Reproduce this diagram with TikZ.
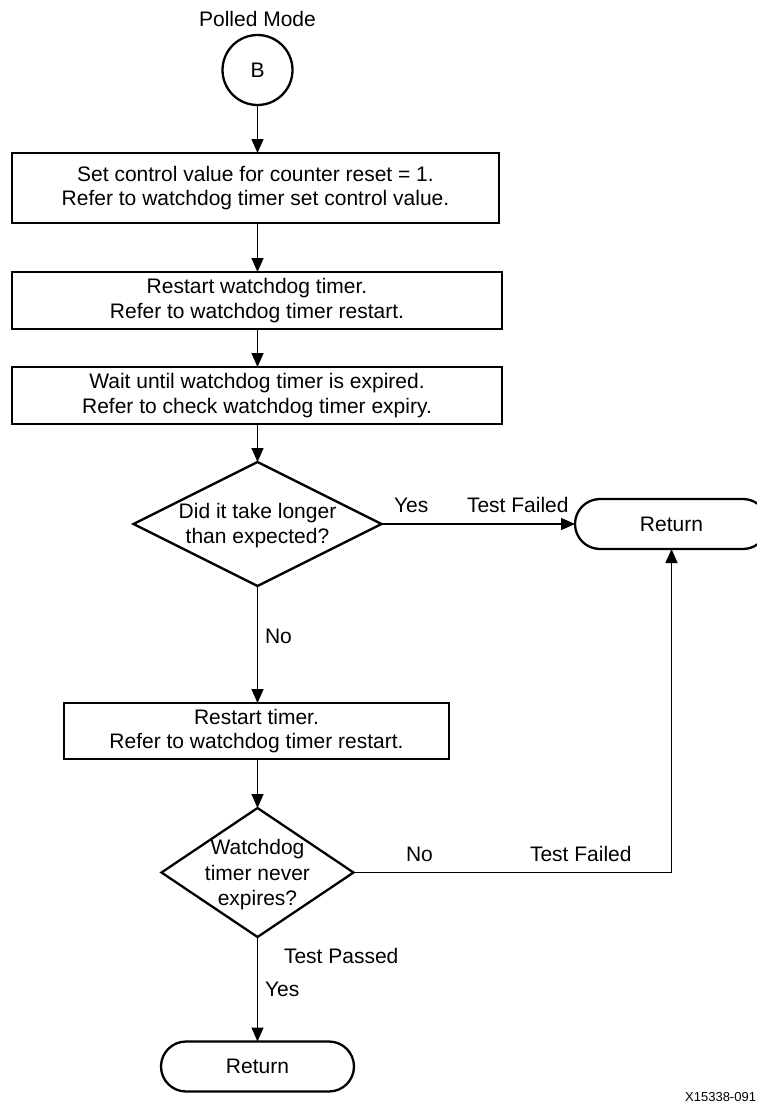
\documentclass[tikz,border=0pt]{standalone}
\usepackage{fontspec}
\setmainfont{Liberation Sans}
\usetikzlibrary{shapes.geometric,arrows.meta}
\begin{document}
\begin{tikzpicture}[x=1pt,y=-1pt,
  every node/.style={inner sep=0pt, outer sep=0pt, font=\fontsize{21}{24.5}\selectfont},
  procbox/.style={draw, rectangle, line width=2.3pt, align=center},
  termbox/.style={draw, rectangle, rounded corners=25pt, line width=2.3pt, minimum width=193pt, minimum height=50pt},
  decbox/.style={draw, diamond, line width=2.3pt},
  dectext/.style={align=center, font=\fontsize{21}{25}\selectfont},
  conn/.style={line width=1.4pt, -{Triangle[length=14pt,width=12pt]}},
  lbl/.style={anchor=base west}
]
\useasboundingbox (0,0) rectangle (756,1105);

% start
\node[anchor=base] (title) at (257.5,26.5) {Polled Mode};
\node[draw, circle, line width=2.3pt, minimum size=70pt] (circ) at (257.5,70) {B};

% process boxes
\node[procbox, minimum width=487pt, minimum height=70pt] (b1) at (255.5,188)
  {Set control value for counter reset = 1.\\Refer to watchdog timer set control value.};
\node[procbox, minimum width=490pt, minimum height=57pt] (b2) at (257,300.5)
  {Restart watchdog timer.\\Refer to watchdog timer restart.};
\node[procbox, minimum width=490pt, minimum height=57pt] (b3) at (257,395.5)
  {Wait until watchdog timer is expired.\\Refer to check watchdog timer expiry.};

% decision 1
\node[decbox, minimum width=248pt, minimum height=124pt] (d1) at (257.5,524) {};
\node[dectext] (d1t) at (257.5,525.5) {Did it take longer\\than expected?};

% return 1
\node[termbox] (r1) at (671.5,524) {Return};

% restart timer
\node[procbox, minimum width=385pt, minimum height=56pt] (b4) at (256.5,731)
  {Restart timer.\\Refer to watchdog timer restart.};

% decision 2
\node[decbox, minimum width=192pt, minimum height=129pt] (d2) at (257.5,872.5) {};
\node[dectext, font=\fontsize{21}{25.5}\selectfont] (d2t) at (257.5,874.7) {Watchdog\\timer never\\expires?};

% return 2
\node[termbox] (r2) at (257.5,1066.5) {Return};

% connectors
\draw[conn] (circ.south) -- (circ.south |- b1.north);
\draw[conn] (circ.south |- b1.south) -- (circ.south |- b2.north);
\draw[conn] (circ.south |- b2.south) -- (circ.south |- b3.north);
\draw[conn] (circ.south |- b3.south) -- (d1.north);
\draw[conn] (d1.east) -- (r1.west);
\draw[conn] (d1.south) -- (d1.south |- b4.north);
\draw[conn] (d1.south |- b4.south) -- (d2.north);
\draw[conn] (d2.east) -| (r1.south);
\draw[conn] (d2.south) -- (r2.north);

% labels
\node[lbl] (yes1) at (394,512.5) {Yes};
\node[lbl] (tf1) at (467,512.5) {Test Failed};
\node[lbl] (no1) at (265,643.5) {No};
\node[lbl] (no2) at (406,861.5) {No};
\node[lbl] (tf2) at (530,861.5) {Test Failed};
\node[lbl] (tp) at (284,963.5) {Test Passed};
\node[lbl] (yes2) at (265,996) {Yes};
\node[anchor=base east, font=\fontsize{13}{15}\selectfont] (fig) at (756,1101.5) {X15338-091};
\end{tikzpicture}
\end{document}
